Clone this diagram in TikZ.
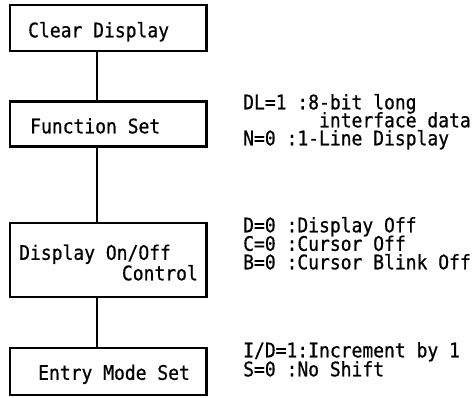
\documentclass[tikz,border=0pt]{standalone}
\usepackage{fontspec}
\newfontfamily\lcdfont[FakeStretch=0.9, FakeBold=0.7]{DejaVu Sans Mono}
\usetikzlibrary{positioning}

\tikzset{
  cmdbox/.style={draw, line width=2.2pt, minimum width=196.5pt, inner sep=0pt},
  cmdtext/.style={font=\lcdfont\fontsize{20pt}{24pt}\selectfont, inner sep=0pt,
                  text height=14.6pt, text depth=0pt, anchor=west},
  link/.style={line width=2pt}
}

\begin{document}
\begin{tikzpicture}[x=1pt, y=-1pt]
  \useasboundingbox (0,0) rectangle (476,398);
  % instruction boxes
  \node[cmdbox, minimum height=46pt]   (clr)  at (108.25,28)  {};
  \node[cmdbox, minimum height=45pt]   (fset) at (108.25,124) {};
  \node[cmdbox, minimum height=74.5pt] (disp) at (108.25,260) {};
  \node[cmdbox, minimum height=47pt]   (ems)  at (108.25,371.5) {};
  \node[cmdtext] (clrtxt)  at (28,30)     {Clear Display};
  \node[cmdtext] (fsettxt) at (30,126)    {Function Set};
  \node[cmdtext] (disptxt) at (19,252.5)  {Display On/Off};
  \node[cmdtext, anchor=east] (ctrltxt) at (198,273) {Control};
  \node[cmdtext] (emstxt)  at (38,372.5)  {Entry Mode Set};
  % vertical spine
  \coordinate (spine) at (97,0);
  \draw[link] (clr.south -| spine) -- (fset.north -| spine);
  \draw[link] (fset.south -| spine) -- (disp.north -| spine);
  \draw[link] (disp.south -| spine) -- (ems.north -| spine);
  % settings
  \foreach \t [count=\i] in {DL=1 :8-bit long, \phantom{DL=1 :8}interface data, N=0 :1-Line Display}
    \node[cmdtext] (fsnote\i) at (243,84+18*\i) {\t};
  \foreach \t [count=\i] in {D=0 :Display Off, C=0 :Cursor Off, B=0 :Cursor Blink Off}
    \node[cmdtext] (dispnote\i) at (243,206.5+18.5*\i) {\t};
  \foreach \t [count=\i] in {I/D=1:Increment by 1, S=0 :No Shift}
    \node[cmdtext] (emsnote\i) at (243,331+19*\i) {\t};
\end{tikzpicture}
\end{document}
